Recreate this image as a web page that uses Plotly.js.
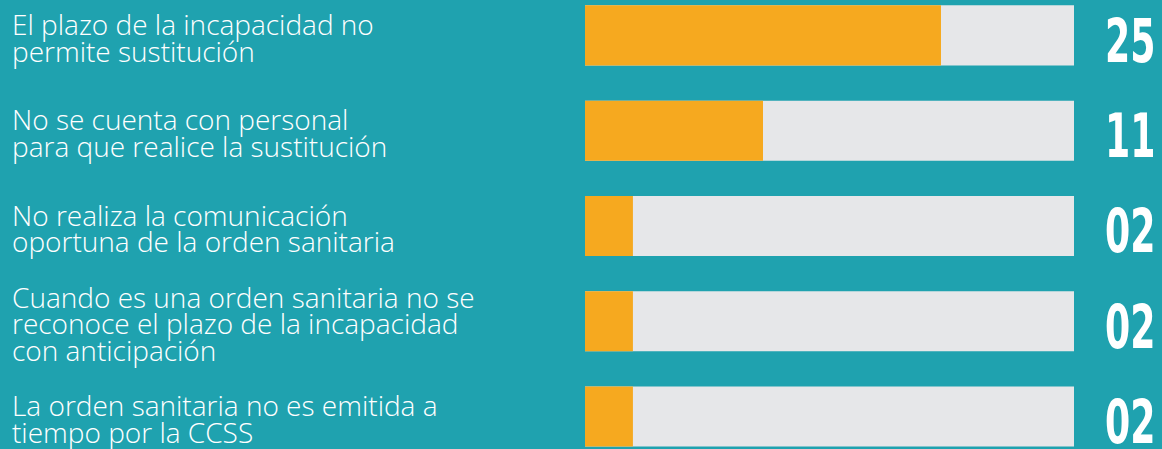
<!DOCTYPE html>
<html>
<head>
<meta charset="utf-8">
<script src="https://cdn.plot.ly/plotly-3.0.1.min.js"></script>
<style>
  html, body { margin: 0; padding: 0; background: #1fa2af; }
  #chart { width: 1162px; height: 449px; }
</style>
</head>
<body>
<div id="chart"></div>
<script>
// ---- data ----
const categories = ["c1", "c2", "c3", "c4", "c5"];
const labels = [
  "El plazo de la incapacidad no<br>permite sustitución",
  "No se cuenta con personal<br>para que realice la sustitución",
  "No realiza la comunicación<br>oportuna de la orden sanitaria",
  "Cuando es una orden sanitaria no se<br>reconoce el plazo de la incapacidad<br>con anticipación",
  "La orden sanitaria no es emitida a<br>tiempo por la CCSS"
];
const values = [25, 11, 2, 2, 2];
const valueText = ["25", "11", "02", "02", "02"];
const barFill = [72.8, 36.4, 9.8, 9.8, 9.8];   // filled share of the track, as drawn
const trackMax = [100, 100, 100, 100, 100];

// ---- styling ----
const BG = "#1fa2af";
const ORANGE = "#f6a91f";
const GRAY = "#e6e7e9";
const W = 1162, H = 449;
const ML = 585, MR = 88;
const plotW = W - ML - MR;
const LINE_H = 26.5;
const VALUE_RIGHT = 1157;
const VALUE_SQUEEZE = 0.66;

const traces = [
  {
    type: "bar", orientation: "h",
    y: categories, x: trackMax,
    marker: { color: GRAY, line: { width: 0 } },
    hoverinfo: "skip"
  },
  {
    type: "bar", orientation: "h",
    y: categories, x: barFill,
    marker: { color: ORANGE, line: { width: 0 } },
    customdata: values,
    hovertemplate: "%{customdata}<extra></extra>"
  }
];

const annotations = [];
const valueIdx = [];
categories.forEach((c, i) => {
  const lines = labels[i].split("<br>");
  const n = lines.length;
  lines.forEach((ln, j) => {
    annotations.push({
      xref: "paper", yref: "y",
      x: (10 - ML) / plotW, y: c,
      xanchor: "left", yanchor: "middle",
      text: ln, showarrow: false, align: "left",
      yshift: ((n - 1) / 2 - j) * LINE_H - 2,
      font: { family: "Open Sans, Lato, Roboto, sans-serif", size: 28, color: "#ffffff", weight: 300 }
    });
  });
  valueIdx.push(annotations.length);
  annotations.push({
    xref: "paper", yref: "y",
    x: (VALUE_RIGHT - ML) / plotW, y: c,
    xanchor: "right", yanchor: "middle",
    text: valueText[i], showarrow: false,
    yshift: -5,
    font: { family: "DejaVu Sans Condensed, DejaVu Sans, sans-serif", size: 61, color: "#ffffff", weight: 700 }
  });
});

const layout = {
  width: W, height: H,
  margin: { l: ML, r: MR, t: 0, b: 0, pad: 0 },
  paper_bgcolor: BG, plot_bgcolor: BG,
  barmode: "overlay",
  bargap: 0.37,
  showlegend: false,
  xaxis: { range: [0, 100], visible: false, fixedrange: true },
  yaxis: { type: "category", range: [4.34, -0.371], visible: false, fixedrange: true },
  annotations: annotations
};

Plotly.newPlot("chart", traces, layout, { displayModeBar: false, staticPlot: true }).then(() => {
  // squeeze the value numbers horizontally (condensed display face), keeping their right edge
  valueIdx.forEach(k => {
    const t = document.querySelector('g.annotation[data-index="' + k + '"] text.annotation-text');
    if (!t) return;
    const bb = t.getBBox();
    const rx = bb.x + bb.width;
    t.setAttribute("transform", "translate(" + (rx * (1 - VALUE_SQUEEZE)) + ",0) scale(" + VALUE_SQUEEZE + ",1)");
  });
});
</script>
</body>
</html>
